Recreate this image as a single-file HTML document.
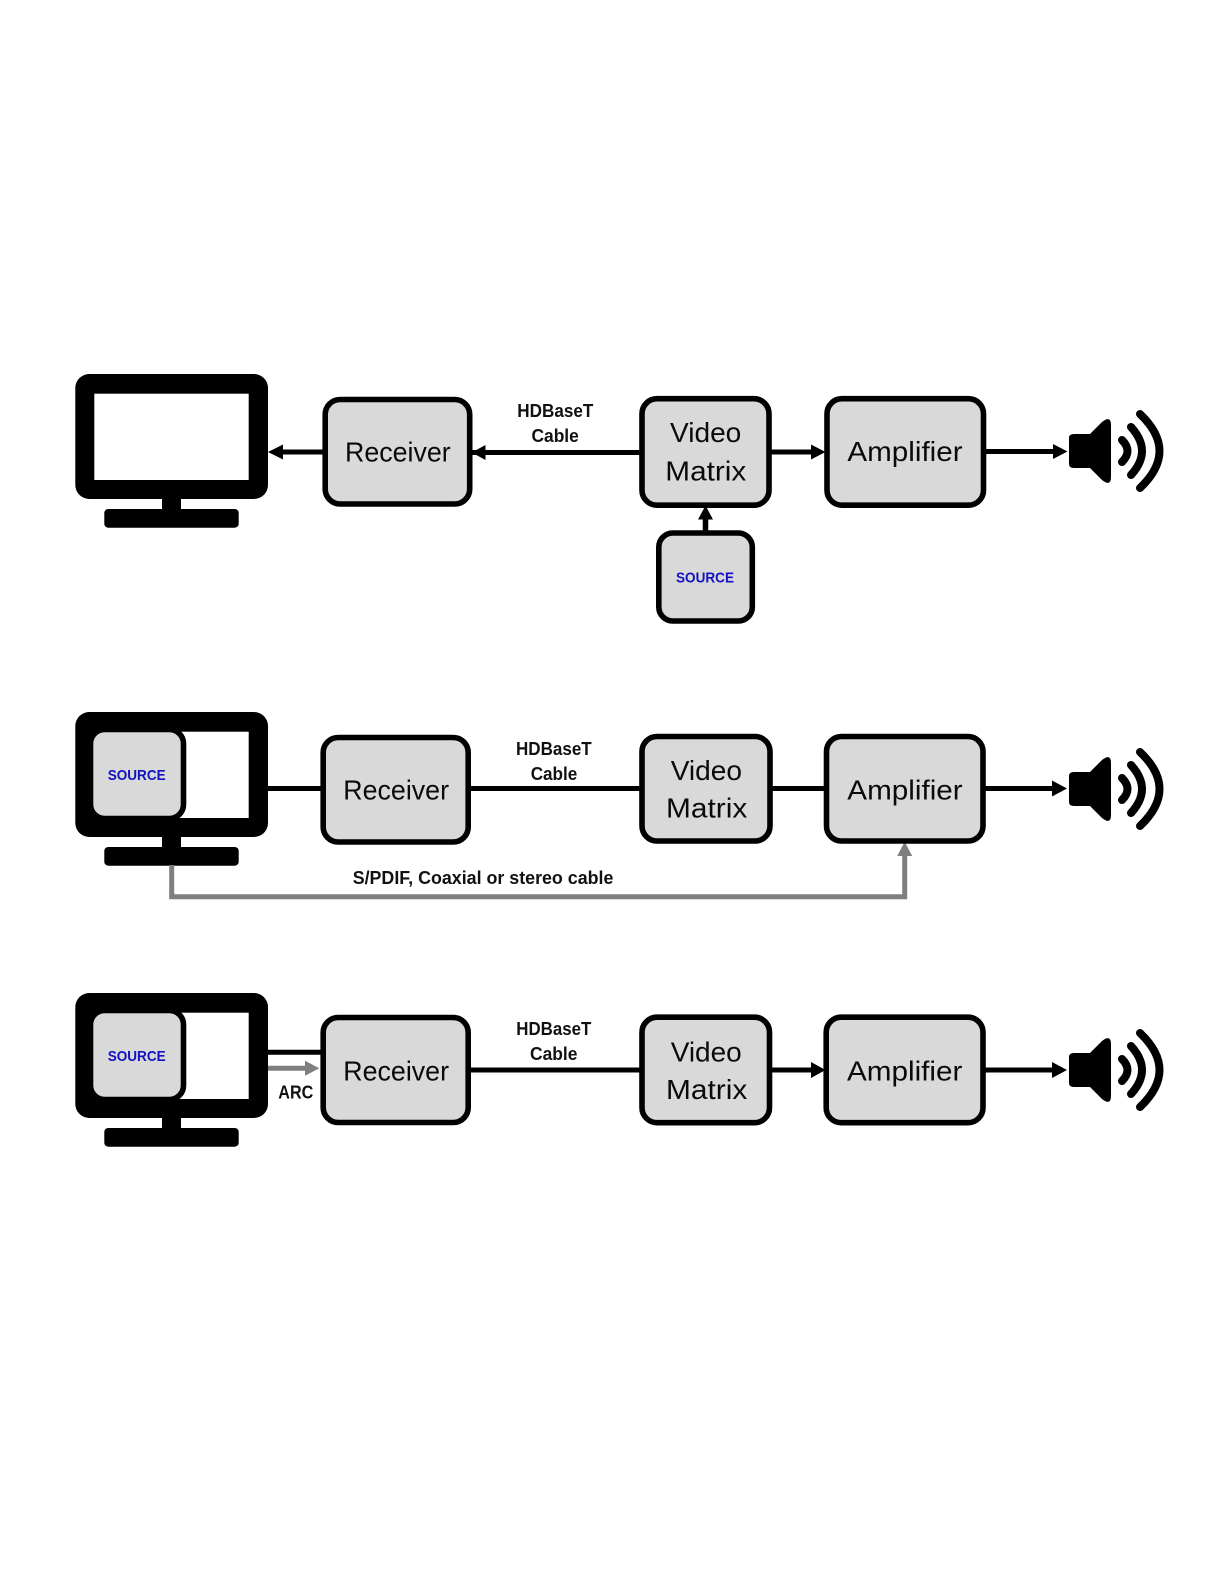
<!DOCTYPE html>
<html lang="en">
<head>
<meta charset="utf-8">
<title>HDBaseT signal routing diagrams</title>
<style>
html,body{margin:0;padding:0;background:#fff}
svg{display:block}
text{font-family:"Liberation Sans",sans-serif;fill:#0a0a0a}
.big{font-size:28px}
.lab{font-size:18px;font-weight:bold;fill:#111}
.src{font-size:15px;font-weight:bold;fill:#1212c0}
.box{fill:#d9d9d9;stroke:#000;stroke-width:5.6}
</style>
</head>
<body>
<svg xmlns="http://www.w3.org/2000/svg" width="1224" height="1584" viewBox="0 0 1224 1584">
<defs>
<g id="mon">
<rect x="75.3" y="0" width="192.7" height="125" rx="14" fill="#000"/>
<rect x="94.3" y="19.7" width="154.4" height="86.3" fill="#fff"/>
<rect x="162" y="124" width="19" height="12" fill="#000"/>
<rect x="104.3" y="135" width="134.4" height="18.7" rx="4" fill="#000"/>
</g>
<g id="spk">
<path d="M1069 -13 Q1069 -17 1074 -17 L1090 -17 L1102 -29 Q1111 -36 1111 -26 L1111 26 Q1111 36 1102 29 L1090 17 L1074 17 Q1069 17 1069 13 Z" fill="#000"/>
<g fill="none" stroke="#000" stroke-width="8" stroke-linecap="round">
<path d="M1122 -11 Q1133 0 1122 11"/>
<path d="M1131 -24 Q1153 0 1131 24"/>
<path d="M1140 -37 Q1179 0 1140 37"/>
</g>
</g>
</defs>

<rect width="1224" height="1584" fill="#fff"/>

<!-- Row 1 -->
<use href="#mon" y="374"/>
<path d="M323 452H280M472 452.5H640M771 452H813M986 451.5H1055" stroke="#000" stroke-width="5" fill="none"/>
<path d="M705.5 531V517" stroke="#000" stroke-width="5.5" fill="none"/>
<path d="M268 452L283 444.5V459.5Z M471.7 452.5L485.5 445V460Z M825.5 452L811 444.5V459.5Z M1067.5 451.5L1053 444V459Z M705.5 505.5L698 519.5H713Z" fill="#000"/>
<rect class="box" x="325.2" y="399.5" width="144.5" height="104.5" rx="15"/>
<rect class="box" x="642" y="398.7" width="127" height="106.5" rx="15"/>
<rect class="box" x="827" y="398.7" width="156.5" height="106.5" rx="15"/>
<rect class="box" x="658.8" y="533" width="93.5" height="88" rx="14"/>
<text class="big" x="345" y="461.7" textLength="105.7" lengthAdjust="spacingAndGlyphs">Receiver</text>
<text class="big" x="670" y="442" textLength="71.3" lengthAdjust="spacingAndGlyphs">Video</text>
<text class="big" x="665.3" y="480.4" textLength="81" lengthAdjust="spacingAndGlyphs">Matrix</text>
<text class="big" x="847.4" y="460.8" textLength="115.2" lengthAdjust="spacingAndGlyphs">Amplifier</text>
<text class="lab" x="517.3" y="417" textLength="76" lengthAdjust="spacingAndGlyphs">HDBaseT</text>
<text class="lab" x="531.5" y="442" textLength="47.3" lengthAdjust="spacingAndGlyphs">Cable</text>
<text class="src" x="676" y="582.7" textLength="58" lengthAdjust="spacingAndGlyphs">SOURCE</text>
<use href="#spk" y="451"/>

<!-- Row 2 -->
<use href="#mon" y="712"/>
<rect class="box" x="90.5" y="729.5" width="93" height="89" rx="14"/>
<text class="src" x="107.7" y="780" textLength="58" lengthAdjust="spacingAndGlyphs">SOURCE</text>
<path d="M268 788.5H322M470 788.5H640M771 788.5H826M985 788.5H1054" stroke="#000" stroke-width="5" fill="none"/>
<path d="M1067 788.5L1052 780.5V796.5Z" fill="#000"/>
<path d="M171.7 865V896.7H904.7V854" stroke="#7f7f7f" stroke-width="5" fill="none"/>
<path d="M904.7 841.7L897.2 856H912.2Z" fill="#7f7f7f"/>
<rect class="box" x="323.2" y="737.5" width="145" height="104.5" rx="15"/>
<rect class="box" x="642" y="736.5" width="128" height="104.5" rx="15"/>
<rect class="box" x="826.5" y="736.5" width="156.5" height="104.5" rx="15"/>
<text class="big" x="343.3" y="799.3" textLength="105.7" lengthAdjust="spacingAndGlyphs">Receiver</text>
<text class="big" x="670.7" y="780" textLength="71.3" lengthAdjust="spacingAndGlyphs">Video</text>
<text class="big" x="666" y="817.3" textLength="81.3" lengthAdjust="spacingAndGlyphs">Matrix</text>
<text class="big" x="847.3" y="799.3" textLength="115.4" lengthAdjust="spacingAndGlyphs">Amplifier</text>
<text class="lab" x="516" y="755" textLength="75.7" lengthAdjust="spacingAndGlyphs">HDBaseT</text>
<text class="lab" x="530.7" y="780" textLength="46.6" lengthAdjust="spacingAndGlyphs">Cable</text>
<text class="lab" x="352.7" y="884" textLength="260.7" lengthAdjust="spacingAndGlyphs">S/PDIF, Coaxial or stereo cable</text>
<use href="#spk" y="789"/>

<!-- Row 3 -->
<use href="#mon" y="993"/>
<rect class="box" x="90.5" y="1010.5" width="93" height="89" rx="14"/>
<text class="src" x="107.7" y="1061" textLength="58" lengthAdjust="spacingAndGlyphs">SOURCE</text>
<path d="M268 1052.3H322M470 1070H640M771 1070H813M985 1070H1054" stroke="#000" stroke-width="5" fill="none"/>
<path d="M825.5 1070L811 1062V1078Z M1067 1070L1052 1062V1078Z" fill="#000"/>
<path d="M268 1068.3H307" stroke="#7f7f7f" stroke-width="5" fill="none"/>
<path d="M319.3 1068.3L305 1060.8V1075.8Z" fill="#7f7f7f"/>
<rect class="box" x="323.2" y="1017.5" width="145" height="105" rx="15"/>
<rect class="box" x="642" y="1017.2" width="127.5" height="105.5" rx="15"/>
<rect class="box" x="826.2" y="1017.2" width="156.8" height="105.5" rx="15"/>
<text class="big" x="343.3" y="1080.7" textLength="105.7" lengthAdjust="spacingAndGlyphs">Receiver</text>
<text class="big" x="670.7" y="1061.5" textLength="71" lengthAdjust="spacingAndGlyphs">Video</text>
<text class="big" x="666" y="1098.8" textLength="81.3" lengthAdjust="spacingAndGlyphs">Matrix</text>
<text class="big" x="847" y="1080.5" textLength="115.4" lengthAdjust="spacingAndGlyphs">Amplifier</text>
<text class="lab" x="516.3" y="1035" textLength="75" lengthAdjust="spacingAndGlyphs">HDBaseT</text>
<text class="lab" x="530" y="1060" textLength="47.4" lengthAdjust="spacingAndGlyphs">Cable</text>
<text class="lab" x="278.3" y="1098.3" textLength="35" lengthAdjust="spacingAndGlyphs">ARC</text>
<use href="#spk" y="1070"/>
</svg>
</body>
</html>
